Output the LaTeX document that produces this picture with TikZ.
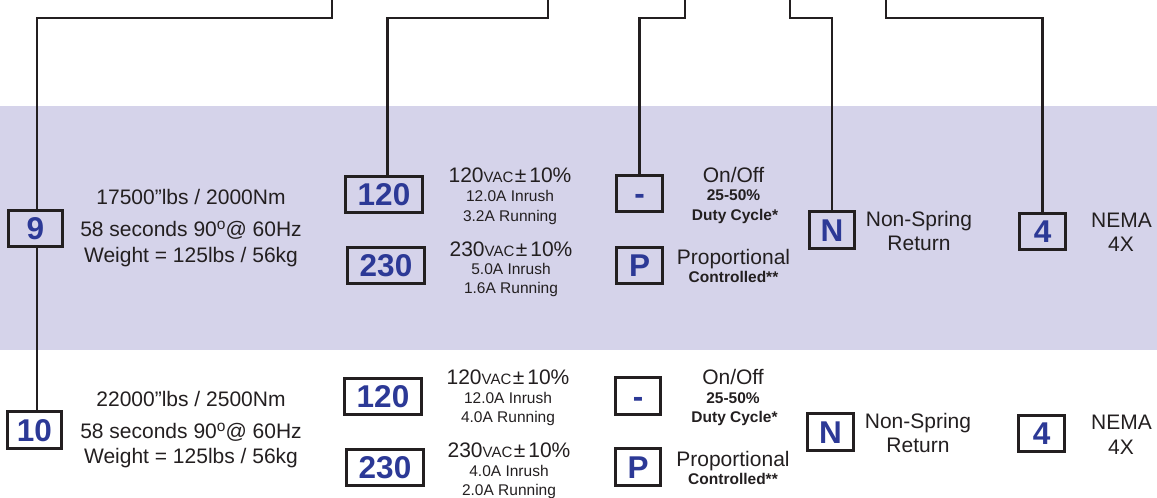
\documentclass[tikz,border=0pt]{standalone}
\usepackage{fontspec}
\setmainfont{Liberation Sans}
\definecolor{bandc}{RGB}{213,211,234}
\definecolor{linec}{RGB}{35,31,32}
\definecolor{numblue}{RGB}{44,57,150}
\definecolor{txtc}{RGB}{35,31,32}
\tikzset{
  wire/.style={draw=linec, line width=2.5pt},
  numbox/.style={draw=linec, line width=2.7pt, inner sep=0pt, minimum height=36.5pt,
    text height=22.5pt, text depth=0pt,
    text=numblue, font=\fontsize{31.5}{31.5}\selectfont\bfseries},
  widebox/.style={numbox, minimum width=77.5pt},
  midbox/.style={numbox, minimum width=54.5pt},
  sqbox/.style={numbox, minimum width=45.5pt},
  txt/.style={anchor=base, inner sep=0pt, text=txtc, font=\fontsize{21}{21}\selectfont},
  small/.style={anchor=base, inner sep=0pt, text=txtc, font=\fontsize{15.5}{15.5}\selectfont},
  smallb/.style={anchor=base, inner sep=0pt, text=txtc, font=\fontsize{15.5}{15.5}\selectfont\bfseries}
}
\newcommand{\vac}[1]{#1{\fontsize{15}{15}\selectfont VAC}\hspace{1.5pt}±\hspace{3pt}10\%}
\newcommand{\degsym}{\raisebox{6.5pt}{\fontsize{15.5}{15.5}\selectfont o}}
\begin{document}
\begin{tikzpicture}[x=1pt,y=-1pt]
\useasboundingbox (0,0) rectangle (1157,498);
\fill[bandc] (0,106) rectangle (1157,350);

% top row boxes
\node[midbox] (b9) at (35.5,228.5) {9};
\node[widebox] (a120) at (384,194.5) {120};
\node[widebox] (a230) at (386,265.5) {230};
\node[sqbox] (adash) at (639.5,193.5) {-};
\node[sqbox] (aP) at (639.5,265.5) {P};
\node[sqbox] (aN) at (832,230) {N};
\node[sqbox] (a4) at (1042.5,231.5) {4};

% bottom row boxes
\node[midbox] (b10) at (34.5,430) {10};
\node[widebox] (c120) at (383,396.5) {120};
\node[widebox] (c230) at (385,467.5) {230};
\node[sqbox] (cdash) at (638,396) {-};
\node[sqbox] (cP) at (638,467) {P};
\node[sqbox] (cN) at (830.5,432) {N};
\node[sqbox] (c4) at (1041.5,433.5) {4};

% connectors
\coordinate (t1) at (332,0);
\coordinate (t2) at (548,0);
\coordinate (t3) at (685,0);
\coordinate (t4) at (790,0);
\coordinate (t5) at (886,0);
\draw[wire] (t1) -- ++(0,18) -| ([xshift=1.5pt]b9.north);
\draw[wire] ([xshift=1.5pt]b9.south) -- ([xshift=1.5pt]b9.south |- b10.north);
\draw[wire] (t2) -- ++(0,18) -| ([xshift=3.5pt]a120.north);
\draw[wire] (t3) -- ++(0,18) -| (adash.north);
\draw[wire] (t4) -- ++(0,18) -| (aN.north);
\draw[wire] (t5) -- ++(0,18) -| (a4.north);

% top row texts
\node[txt] (s9a) at (191,204) {17500”lbs / 2000Nm};
\node[txt] (s9b) at (191,236) {58 seconds 90\degsym@ 60Hz};
\node[txt] (s9c) at (191,262) {Weight = 125lbs / 56kg};

\node[txt] (v1a) at (510,182) {\vac{120}};
\node[small] (v1b) at (510,201) {12.0A Inrush};
\node[small] (v1c) at (510,221) {3.2A Running};
\node[txt] (v2a) at (511,256) {\vac{230}};
\node[small] (v2b) at (511,274) {5.0A Inrush};
\node[small] (v2c) at (511,293) {1.6A Running};

\node[txt] (o1a) at (733.5,182) {On/Off};
\node[smallb] (o1b) at (733.5,200.5) {25-50\%};
\node[smallb] (o1c) at (735,220) {Duty Cycle*};
\node[txt] (p1a) at (733.5,264) {Proportional};
\node[smallb] (p1b) at (733.5,282) {Controlled**};

\node[txt] (n1a) at (919,226.5) {Non-Spring};
\node[txt] (n1b) at (919,250) {Return};
\node[txt] (m1a) at (1121.5,227) {NEMA};
\node[txt] (m1b) at (1121,251.5) {4X};

% bottom row texts
\node[txt] (s10a) at (191,406) {22000”lbs / 2500Nm};
\node[txt] (s10b) at (191,438) {58 seconds 90\degsym@ 60Hz};
\node[txt] (s10c) at (191,463) {Weight = 125lbs / 56kg};

\node[txt] (v3a) at (508,384) {\vac{120}};
\node[small] (v3b) at (508,403) {12.0A Inrush};
\node[small] (v3c) at (508,422) {4.0A Running};
\node[txt] (v4a) at (509,457) {\vac{230}};
\node[small] (v4b) at (509,476) {4.0A Inrush};
\node[small] (v4c) at (509,495) {2.0A Running};

\node[txt] (o2a) at (733,384) {On/Off};
\node[smallb] (o2b) at (733,403) {25-50\%};
\node[smallb] (o2c) at (734.5,422) {Duty Cycle*};
\node[txt] (p2a) at (733,466.5) {Proportional};
\node[smallb] (p2b) at (733,484.5) {Controlled**};

\node[txt] (n2a) at (918,428) {Non-Spring};
\node[txt] (n2b) at (918,452) {Return};
\node[txt] (m2a) at (1121.5,429) {NEMA};
\node[txt] (m2b) at (1121,454) {4X};
\end{tikzpicture}
\end{document}
